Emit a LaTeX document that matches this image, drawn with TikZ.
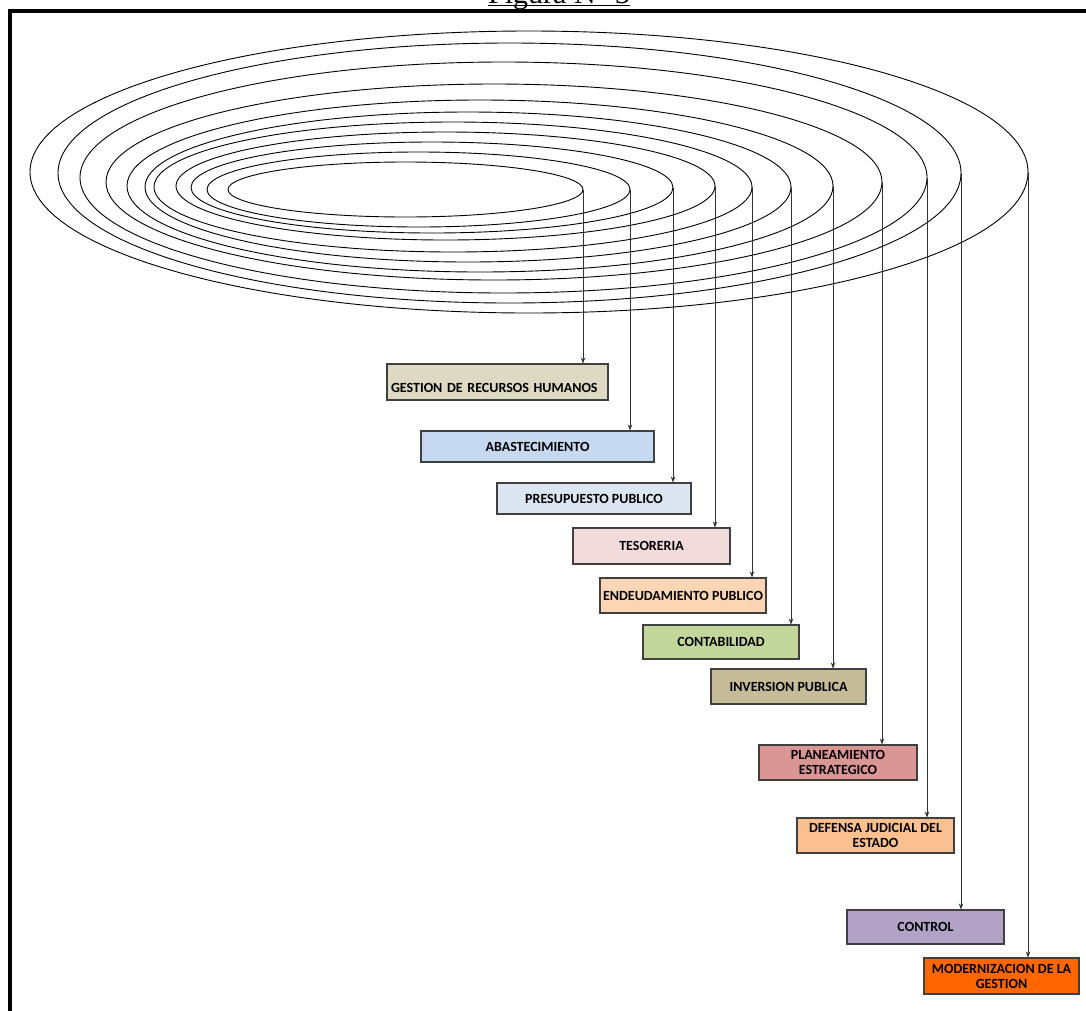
\documentclass[tikz,border=0pt]{standalone}
\usepackage{fontspec}
\setmainfont{Liberation Serif}
\newfontfamily\boxfont{Carlito}
\usetikzlibrary{arrows.meta}

\definecolor{cGes}{HTML}{DDD9C3}
\definecolor{cAba}{HTML}{C6D9F1}
\definecolor{cPre}{HTML}{DCE6F2}
\definecolor{cTes}{HTML}{F2DCDB}
\definecolor{cEnd}{HTML}{FCD5B5}
\definecolor{cCon}{HTML}{C3D69B}
\definecolor{cInv}{HTML}{C4BD97}
\definecolor{cPla}{HTML}{D99694}
\definecolor{cDef}{HTML}{FAC090}
\definecolor{cCtl}{HTML}{B3A2C7}
\definecolor{cMod}{HTML}{FF6600}
\definecolor{edge}{HTML}{404040}

\begin{document}
\begin{tikzpicture}[x=1pt,y=-1pt,
  ring/.style={draw=black,line width=0.9pt},
  unitbox/.style={draw=edge,line width=1.1pt,rectangle,inner sep=2pt,
    font=\boxfont\bfseries\fontsize{14}{15}\selectfont,align=center},
  feed/.style={draw=black!80,line width=0.8pt,-{Stealth[length=6pt,width=4.5pt]}}]
\useasboundingbox (0,0) rectangle (1086,1010);

% title, mostly above the page edge
\node[anchor=base west,inner sep=0,font=\fontsize{30}{30}\selectfont] (title) at (488,3) {Figura N° 3};
\draw[line width=1.5pt] ([yshift=-2.5pt]title.base west) -- ([yshift=-2.5pt]title.base east);

% frame
\draw[line width=4pt] (10,1015) -- (10,11) -- (1092,11);

% nested rings; each ring's right end feeds one unit
\foreach \cx/\cy/\rx/\ry/\n in {
  405.5/189.5/177.5/27.5/1,
  418.5/189.5/211.5/37.5/2,
  432/187.5/241/45.5/3,
  445.5/186/269.5/54/4,
  453/187/299/65/5,
  468/187/323/75/6,
  480/186/353/86/7,
  494/182/388/98/8,
  503.5/177.5/423.5/115.5/9,
  509.5/173/451.5/130/10,
  529/172/499/141/11}{
  \draw[ring] (\cx,\cy) ellipse [x radius=\rx pt, y radius=\ry pt];
  \coordinate (e\n) at (\cx+\rx,\cy);
}

% units
\node[unitbox,fill=cGes,minimum width=221pt,minimum height=36pt,text width=213pt,
      align=left,text height=20pt,text depth=0pt] (b1) at (497.5,382) {GESTION DE RECURSOS HUMANOS};
\node[unitbox,fill=cAba,minimum width=233pt,minimum height=31pt] (b2) at (537.5,446.5) {ABASTECIMIENTO};
\node[unitbox,fill=cPre,minimum width=194pt,minimum height=31pt] (b3) at (594,498.5) {PRESUPUESTO PUBLICO};
\node[unitbox,fill=cTes,minimum width=157pt,minimum height=36pt] (b4) at (651.5,546) {TESORERIA};
\node[unitbox,fill=cEnd,minimum width=166pt,minimum height=35pt] (b5) at (683,595.5) {ENDEUDAMIENTO PUBLICO};
\node[unitbox,fill=cCon,minimum width=156pt,minimum height=34pt] (b6) at (721,642) {CONTABILIDAD};
\node[unitbox,fill=cInv,minimum width=155pt,minimum height=35pt] (b7) at (788.5,686.5) {INVERSION PUBLICA};
\node[unitbox,fill=cPla,minimum width=158pt,minimum height=35pt] (b8) at (838,762.5) {PLANEAMIENTO\\ESTRATEGICO};
\node[unitbox,fill=cDef,minimum width=157pt,minimum height=35pt] (b9) at (875.5,835.5) {DEFENSA JUDICIAL DEL\\ESTADO};
\node[unitbox,fill=cCtl,minimum width=157pt,minimum height=34pt] (b10) at (925.5,927) {CONTROL};
\node[unitbox,fill=cMod,minimum width=155pt,minimum height=36pt] (b11) at (1001.5,976) {MODERNIZACION DE LA\\GESTION};

% feeds from rings down to units
\foreach \n in {1,...,11}{
  \draw[feed] (e\n) -- (e\n |- b\n.north);
}
\end{tikzpicture}
\end{document}
